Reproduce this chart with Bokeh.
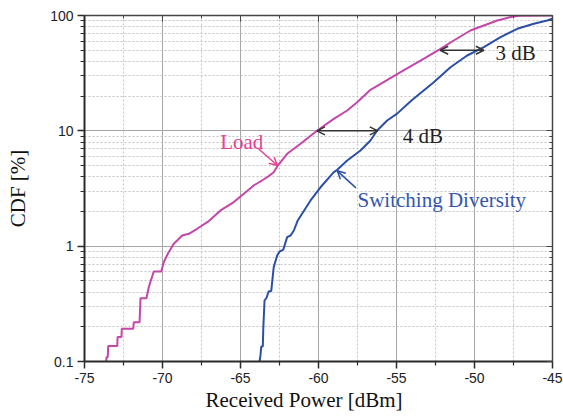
from bokeh.plotting import figure
from bokeh.models import (FixedTicker, LinearAxis, LogAxis, Label, Arrow, OpenHead,
                          BasicTickFormatter, Title)
from bokeh.embed import file_html
from bokeh.resources import INLINE

# ---- data ----
load_power = [-73.61, -73.59, -73.51, -73.48, -72.90, -72.88, -72.63, -72.61, -71.88, -71.84,
              -71.47, -71.41, -71.03, -70.88, -70.56, -70.08, -69.92, -69.66, -69.28, -69.06,
              -68.74, -68.31, -67.78, -67.03, -66.28, -65.43, -64.79, -64.15, -63.29, -62.87,
              -62.61, -62.01, -61.15, -60.08, -59.02, -58.16, -57.52, -56.67, -54.74, -53.46,
              -52.18, -51.33, -50.26, -49.40, -48.54, -47.69, -47.18, -45.00]
load_cdf = [0.1, 0.109, 0.109, 0.136, 0.136, 0.163, 0.163, 0.192, 0.192, 0.219,
            0.219, 0.354, 0.354, 0.441, 0.603, 0.603, 0.726, 0.859, 1.048, 1.12,
            1.237, 1.279, 1.415, 1.65, 2.04, 2.41, 2.85, 3.36, 3.96, 4.38,
            5.0, 6.32, 7.72, 10.07, 12.7, 15.0, 17.7, 22.7, 32.3, 40.7,
            51.4, 60.7, 74.1, 81.9, 90.5, 96.9, 99.5, 100.0]

sd_power = [-63.78, -63.72, -63.67, -63.57, -63.54, -63.46, -63.33, -63.19, -63.03, -62.87,
            -62.65, -62.48, -62.26, -62.01, -61.79, -61.58, -61.33, -60.51, -59.87, -59.02,
            -58.80, -58.16, -57.31, -56.67, -56.24, -55.60, -54.96, -54.04, -52.61, -51.54,
            -50.47, -49.40, -48.33, -47.26, -46.20, -45.34, -45.02]
sd_cdf = [0.1, 0.113, 0.135, 0.135, 0.192, 0.338, 0.357, 0.407, 0.407, 0.658,
          0.830, 0.904, 0.93, 1.197, 1.237, 1.367, 1.67, 2.49, 3.24, 4.38,
          4.59, 5.53, 6.76, 8.25, 10.07, 12.3, 14.1, 18.3, 26.4, 35.6,
          45.0, 53.1, 64.9, 76.7, 84.8, 90.5, 93.7]

x_ticks = [-75, -70, -65, -60, -55, -50, -45]
x_tick_labels = ["-75", "-70", "-65", "-60", "-55", "-50", "-45"]
x_minor_ticks = [-72.5, -67.5, -62.5, -57.5, -52.5, -47.5]
y_ticks = [0.1, 1, 10, 100]
y_tick_labels = ["0.1", "1", "10", "100"]
y_minor_ticks = [m * d for d in (0.1, 1, 10) for m in range(2, 10)]

SERIF = "Liberation Serif"
SANS = "Liberation Sans"
LOAD_COLOR = "#C446A8"
LOAD_TEXT = "#E8408E"
SD_COLOR = "#2B4FA8"
SD_TEXT = "#3556B0"
AX = "#2a2a2a"

p = figure(width=563, height=417, x_range=(-75, -45), y_range=(0.1, 100),
           y_axis_type="log", output_backend="svg", toolbar_location=None,
           min_border_left=84, min_border_right=11, min_border_top=15, min_border_bottom=56)
p.outline_line_color = None
p.background_fill_color = "white"

xt = FixedTicker(ticks=x_ticks, minor_ticks=x_minor_ticks)
yt = FixedTicker(ticks=y_ticks, minor_ticks=y_minor_ticks)

for ax in p.xaxis:
    ax.ticker = xt
    ax.major_label_overrides = {v: s for v, s in zip(x_ticks, x_tick_labels)}
for ax in p.yaxis:
    ax.ticker = yt
    ax.formatter = BasicTickFormatter()
    ax.major_label_overrides = {v: s for v, s in zip(y_ticks, y_tick_labels)}

def style_main(ax):
    ax.axis_line_color = AX
    ax.axis_line_width = 2
    ax.major_tick_line_color = AX
    ax.minor_tick_line_color = AX
    ax.major_tick_line_width = 1.5
    ax.minor_tick_line_width = 1.2
    ax.major_tick_in = 0
    ax.major_tick_out = 7
    ax.minor_tick_in = 0
    ax.minor_tick_out = 4
    ax.major_label_text_font = SANS
    ax.major_label_text_font_size = "14px"
    ax.major_label_text_color = "#222222"
    ax.major_label_standoff = 4
    ax.axis_label_text_font = SERIF
    ax.axis_label_text_font_size = "21px"
    ax.axis_label_text_font_style = "normal"
    ax.axis_label_text_color = "#111111"

for ax in p.xaxis:
    style_main(ax)
for ax in p.yaxis:
    style_main(ax)
    ax.axis_label = "CDF [%]"
    ax.axis_label_standoff = 17

def style_mirror(ax):
    ax.axis_line_color = "#444444"
    ax.axis_line_width = 1.5
    ax.major_tick_line_color = "#444444"
    ax.minor_tick_line_color = "#444444"
    ax.major_tick_in = 6
    ax.major_tick_out = 0
    ax.minor_tick_in = 3
    ax.minor_tick_out = 0
    ax.major_label_text_font_size = "0px"
    ax.major_label_text_color = None
    ax.major_label_standoff = 0

top = LinearAxis(ticker=xt)
style_mirror(top)
p.add_layout(top, "above")
right = LogAxis(ticker=yt)
style_mirror(right)
p.add_layout(right, "right")

# x-axis title as a below-title, placed a little left of centre as in the reference
p.add_layout(Title(text="Received Power [dBm]", align="left", offset=121,
                   text_font=SERIF, text_font_size="21px", text_font_style="normal",
                   text_color="#111111", standoff=0), "below")

for g in (p.xgrid, p.ygrid):
    g.grid_line_color = "#A6A6A6"
    g.grid_line_width = 1
    g.minor_grid_line_color = "#C4C4C4"
    g.minor_grid_line_dash = "2 2"
    g.minor_grid_line_width = 1

p.line(load_power, load_cdf, line_color=LOAD_COLOR, line_width=2)
p.line(sd_power, sd_cdf, line_color=SD_COLOR, line_width=2)

# annotations
arrow_col = "#333333"
p.add_layout(Arrow(x_start=-60.1, y_start=10, x_end=-56.2, y_end=10,
                   start=OpenHead(size=8, line_color=arrow_col, line_width=1.5),
                   end=OpenHead(size=8, line_color=arrow_col, line_width=1.5),
                   line_color=arrow_col, line_width=1.5))
p.add_layout(Arrow(x_start=-52.2, y_start=50, x_end=-49.4, y_end=50,
                   start=OpenHead(size=8, line_color=arrow_col, line_width=1.5),
                   end=OpenHead(size=8, line_color=arrow_col, line_width=1.5),
                   line_color=arrow_col, line_width=1.5))
p.add_layout(Arrow(x_start=-63.85, y_start=7.0, x_end=-62.63, y_end=5.0,
                   end=OpenHead(size=8, line_color=LOAD_TEXT, line_width=1.5),
                   line_color=LOAD_TEXT, line_width=1.5))
p.add_layout(Arrow(x_start=-57.6, y_start=3.2, x_end=-58.8, y_end=4.5,
                   end=OpenHead(size=8, line_color=SD_COLOR, line_width=1.5),
                   line_color=SD_COLOR, line_width=1.5))

def lab(x, y, t, color):
    p.add_layout(Label(x=x, y=y, text=t, text_font=SERIF, text_font_size="21px",
                       text_color=color, text_baseline="middle", text_align="left"))

lab(-54.6, 9.0, "4 dB", "#222222")
lab(-48.65, 47.0, "3 dB", "#222222")
lab(-66.3, 8.0, "Load", LOAD_TEXT)
lab(-57.5, 2.5, "Switching Diversity", SD_TEXT)

open("out.html", "w").write(file_html(p, INLINE))
